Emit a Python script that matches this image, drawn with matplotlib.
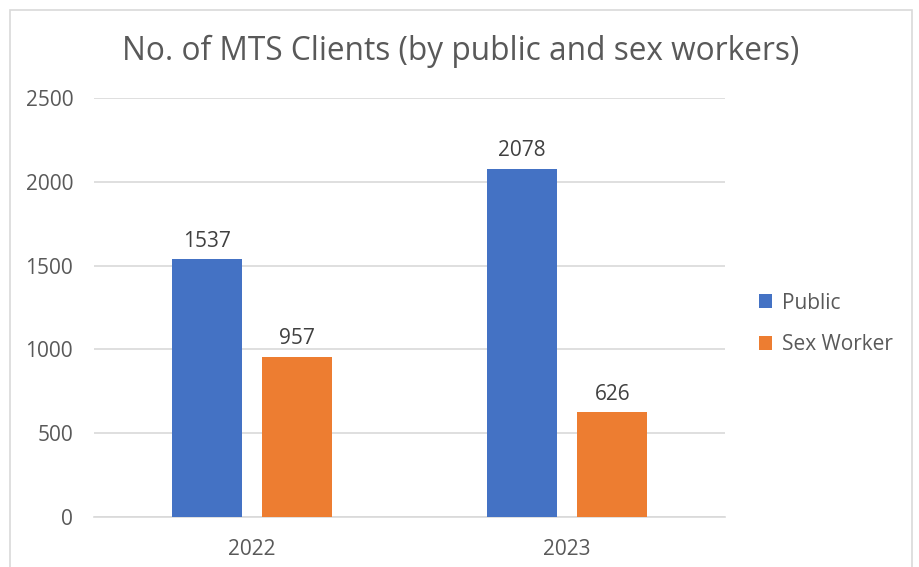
import matplotlib
matplotlib.use("Agg")
import matplotlib.pyplot as plt
import numpy as np
from matplotlib.patches import Rectangle

years = ["2022", "2023"]
public = [1537, 2078]
sex_worker = [957, 626]
yticks = [0, 500, 1000, 1500, 2000, 2500]

plt.rcParams["font.family"] = ["Open Sans", "DejaVu Sans"]
grey = "#595959"

fig = plt.figure(figsize=(9.2, 5.67), dpi=100)
ax = fig.add_axes([94 / 920, 1 - 517 / 567, (725 - 94) / 920, (517 - 98) / 567])

x = np.arange(len(years))
w = 0.222
b1 = ax.bar(x - 0.143, public, w, color="#4472C4", label="Public", zorder=3)
b2 = ax.bar(x + 0.143, sex_worker, w, color="#ED7D31", label="Sex Worker", zorder=3)

for bars in (b1, b2):
    for r in bars:
        ax.text(r.get_x() + r.get_width() / 2, r.get_height() + 45, f"{int(r.get_height())}",
                ha="center", va="bottom", fontsize=15, color="#404040")

ax.set_xlim(-0.5, 1.5)
ax.set_ylim(0, 2500)
ax.set_yticks(yticks)
ax.set_xticks(x)
ax.set_xticklabels(years)
ax.tick_params(axis="both", length=0, labelsize=15, labelcolor=grey)
ax.tick_params(axis="y", pad=15)
ax.tick_params(axis="x", pad=16)
ax.grid(axis="y", color="#D9D9D9", linewidth=1.2, zorder=0)
for s in ["top", "right", "left"]:
    ax.spines[s].set_visible(False)
ax.spines["bottom"].set_color("#D9D9D9")
ax.spines["bottom"].set_linewidth(1.2)

fig.text(461 / 920, 1 - 51 / 567, "No. of MTS Clients (by public and sex workers)",
         ha="center", va="center", fontsize=22.8, color=grey)

leg = fig.legend(loc="center left", bbox_to_anchor=(740 / 920, 1 - 324 / 567), frameon=False,
                 fontsize=15, handlelength=0.65, handleheight=0.65, handletextpad=0.45,
                 labelspacing=1.0, labelcolor=grey)

fig.patches.append(Rectangle((10 / 920, -0.1), (912 - 10) / 920, 1.1 - 10 / 567,
                             transform=fig.transFigure, fill=False, edgecolor="#D9D9D9",
                             linewidth=1.2))

fig.savefig("out.png", dpi=100)
